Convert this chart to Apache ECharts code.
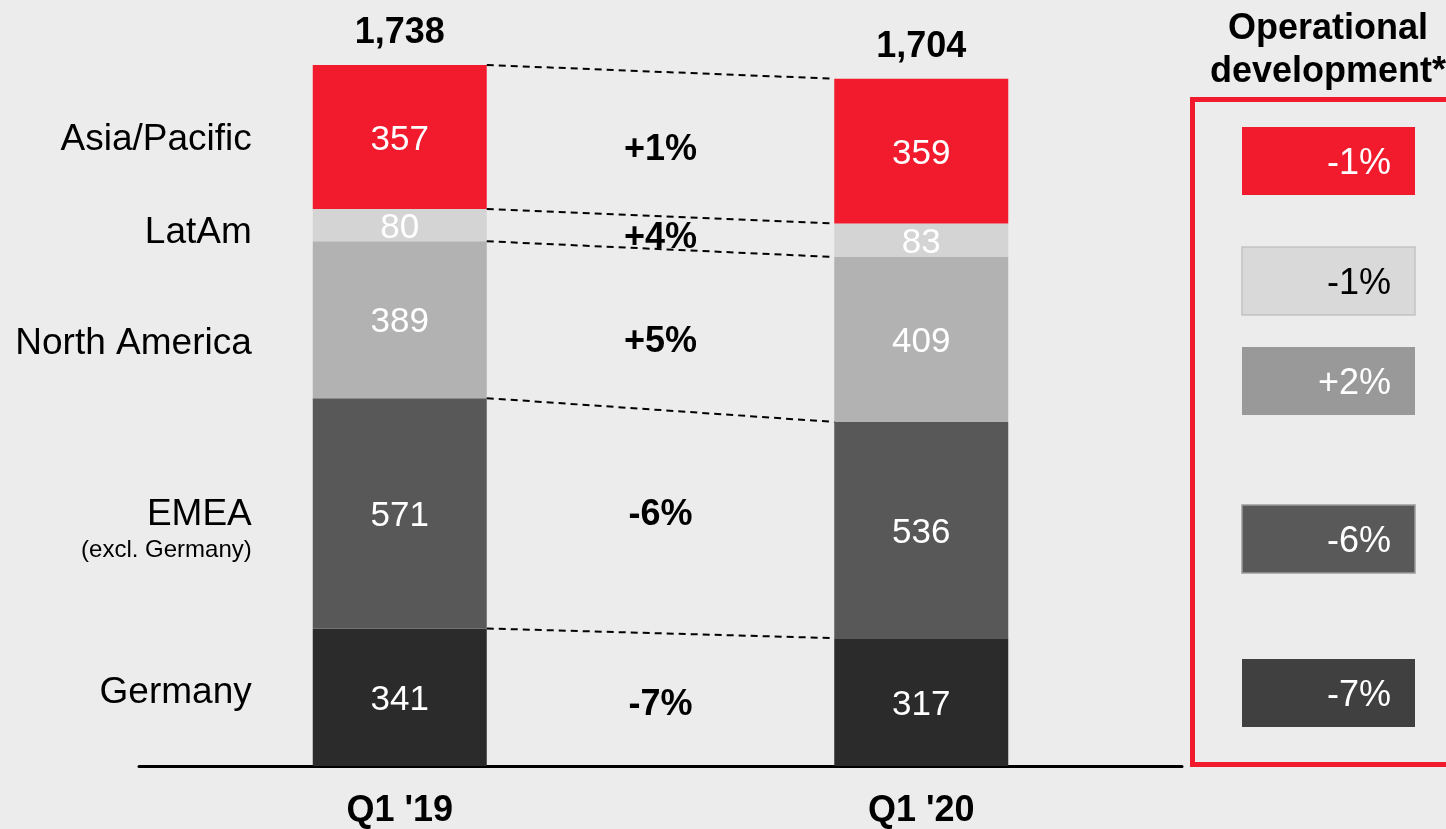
<!DOCTYPE html>
<html>
<head>
	<meta charset="UTF-8">
	<title>Regional development</title>
	<script src="https://cdn.jsdelivr.net/npm/echarts@6/dist/echarts.min.js"></script>
	<style>
		html, body { margin: 0; padding: 0; background: #ececec; }
	</style>
</head>
<body>
	<div id="chart1" style="width: 1446px;height: 829px;"></div>
<script type="text/javascript">
	// data, bottom of the stack first
	var quarters = ["Q1 '19", "Q1 '20"];
	var regions = ['Germany', 'EMEA', 'North America', 'LatAm', 'Asia/Pacific'];
	var subLabels = ['', '(excl. Germany)', '', '', ''];
	var q119 = [341, 571, 389, 80, 357];
	var q120 = [317, 536, 409, 83, 359];
	var totals = [1738, 1704];
	var change = ['-7%', '-6%', '+5%', '+4%', '+1%'];
	var opDev = ['-7%', '-6%', '+2%', '-1%', '-1%'];

	// styles / layout
	var FONT = "'Liberation Sans', Arial, sans-serif";
	var colors = ['#2b2b2b', '#585858', '#b2b2b2', '#d4d4d4', '#f21b2d'];
	var boxColors = ['#404040', '#595959', '#999999', '#d9d9d9', '#f21b2d'];
	var boxBorders = [null, '#9a9a9a', null, '#c2c2c2', null];
	var boxText = ['#fff', '#fff', '#fff', '#000', '#fff'];
	var boxTops = [659, 505, 347, 247, 127];
	var labelShift = [-4, 1, 24, 8, 3];
	var changeShift = [3, -15, 3, -2, -1];
	var barWidth = 174;

	var cum19 = [], cum20 = [];
	q119.reduce(function (s, v, i) { cum19[i] = s + v; return s + v; }, 0);
	q120.reduce(function (s, v, i) { cum20[i] = s + v; return s + v; }, 0);

	var chart1 = echarts.init(document.getElementById("chart1"));

	var series = regions.map(function (name, i) {
		return {
			name: name,
			type: 'bar',
			stack: 'total',
			barWidth: barWidth,
			itemStyle: { color: colors[i] },
			label: {
				show: true,
				position: 'inside',
				offset: [0, 3],
				color: '#fff',
				fontFamily: FONT,
				fontSize: 35
			},
			data: [q119[i], q120[i]]
		};
	});

	// connectors, change labels and region names
	series.push({
		type: 'custom',
		silent: true,
		z: 5,
		encode: { x: 0, y: 1 },
		data: regions.map(function () { return [0, 0]; }),
		renderItem: function (params, api) {
			var i = params.dataIndex;
			var half = barWidth / 2;
			var a0 = api.coord([0, cum19[i]]);
			var a1 = api.coord([1, cum20[i]]);
			var b0 = api.coord([0, cum19[i] - q119[i]]);
			var b1 = api.coord([1, cum20[i] - q120[i]]);
			var mid19 = (a0[1] + b0[1]) / 2;
			var mid20 = (a1[1] + b1[1]) / 2;
			var children = [{
				type: 'line',
				shape: { x1: a0[0] + half, y1: a0[1], x2: a1[0] - half, y2: a1[1] },
				style: { stroke: '#000', lineWidth: 2, lineDash: [7, 5] }
			}, {
				type: 'text',
				style: {
					text: change[i],
					x: (a0[0] + a1[0]) / 2,
					y: mid20 + changeShift[i],
					fill: '#000',
					font: 'bold 36px ' + FONT,
					textAlign: 'center',
					textVerticalAlign: 'middle'
				}
			}, {
				type: 'text',
				style: {
					text: regions[i],
					x: a0[0] - half - 61,
					y: mid19 + labelShift[i],
					fill: '#000',
					font: '37px ' + FONT,
					textAlign: 'right',
					textVerticalAlign: 'middle'
				}
			}];
			if (subLabels[i]) {
				children.push({
					type: 'text',
					style: {
						text: subLabels[i],
						x: a0[0] - half - 61,
						y: mid19 + labelShift[i] + 36,
						fill: '#000',
						font: '24px ' + FONT,
						textAlign: 'right',
						textVerticalAlign: 'middle'
					}
				});
			}
			return { type: 'group', children: children };
		}
	});

	// totals above the bars
	series.push({
		type: 'custom',
		silent: true,
		encode: { x: 0, y: 1 },
		data: totals.map(function (t, i) { return [i, t]; }),
		renderItem: function (params, api) {
			var p = api.coord([api.value(0), api.value(1)]);
			return {
				type: 'text',
				style: {
					text: echarts.format.addCommas(api.value(1)),
					x: p[0],
					y: p[1] - 32,
					fill: '#000',
					font: 'bold 36px ' + FONT,
					textAlign: 'center',
					textVerticalAlign: 'middle'
				}
			};
		}
	});

	// right panel
	var graphic = [{
		type: 'rect',
		shape: { x: 1192.5, y: 99.5, width: 300, height: 665 },
		style: { fill: 'none', stroke: '#f21b2d', lineWidth: 5 }
	}, {
		type: 'text',
		style: {
			text: 'Operational\ndevelopment*',
			x: 1328,
			y: 8,
			fill: '#000',
			font: 'bold 36px ' + FONT,
			lineHeight: 43,
			textAlign: 'center',
			textVerticalAlign: 'top'
		}
	}];
	opDev.forEach(function (v, i) {
		graphic.push({
			type: 'rect',
			shape: { x: 1242, y: boxTops[i], width: 173, height: 68 },
			style: {
				fill: boxColors[i],
				stroke: boxBorders[i] || boxColors[i],
				lineWidth: boxBorders[i] ? 1.5 : 0
			}
		});
		graphic.push({
			type: 'text',
			style: {
				text: v,
				x: 1391,
				y: boxTops[i] + 37,
				fill: boxText[i],
				font: '36px ' + FONT,
				textAlign: 'right',
				textVerticalAlign: 'middle'
			}
		});
	});

	var option = {
		backgroundColor: '#ececec',
		animation: false,
		grid: { left: 139, width: 1043, top: 40, height: 727 },
		xAxis: {
			type: 'category',
			data: quarters,
			axisTick: { show: false },
			axisLine: { lineStyle: { color: '#000', width: 3 } },
			axisLabel: {
				color: '#000',
				fontFamily: FONT,
				fontWeight: 'bold',
				fontSize: 36,
				margin: 27
			}
		},
		yAxis: {
			type: 'value',
			min: 0,
			max: 1800,
			show: false
		},
		graphic: graphic,
		series: series
	};

	chart1.setOption(option);
</script>
</body>
</html>
